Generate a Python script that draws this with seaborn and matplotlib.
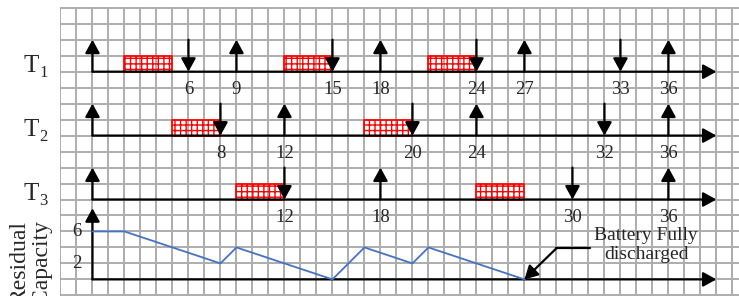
import numpy as np
import matplotlib
matplotlib.use("Agg")
import matplotlib.pyplot as plt
import seaborn as sns
from matplotlib.patches import Rectangle

# task rows: release (up arrow) times, deadline (down arrow) times, execution windows
t1_release = [0, 9, 18, 27, 36]
t1_deadline = [6, 15, 24, 33]
t1_exec = [(2, 5), (12, 15), (21, 24)]

t2_release = [0, 12, 24, 36]
t2_deadline = [8, 20, 32]
t2_exec = [(5, 8), (17, 20)]

t3_release = [0, 18, 36]
t3_deadline = [12, 30]
t3_exec = [(9, 12), (24, 27)]

row_index = ["1", "2", "3"]
row_base = [13, 9, 5]

# battery residual capacity
battery_t = [0, 2, 8, 9, 15, 17, 20, 21, 27]
battery_cap = [6, 6, 2, 4, 0, 4, 2, 4, 0]
cap_ticks = [6, 2]

sns.set_style("white")
plt.rcParams["font.family"] = ["Liberation Serif", "DejaVu Serif"]
plt.rcParams["hatch.linewidth"] = 1.0

W, H = 739, 296
fig = plt.figure(figsize=(W / 100, H / 100), dpi=100)
ax = fig.add_axes([60 / W, 0, (W - 60) / W, (H - 7.3) / H])
ax.set_xlim(-2.03, 40.41)
ax.set_ylim(-1.04, 17.03)
ax.set_xticks(np.arange(-2, 41))
ax.set_yticks(np.arange(-1, 18))
ax.grid(True, color="#adadad", lw=1.4)
ax.set_axisbelow(True)
ax.tick_params(length=0, labelbottom=False, labelleft=False)
for s in ax.spines.values():
    s.set_visible(False)

ax2 = ax.twinx()
ax2.set_ylim(-2.08, 34.06)
ax2.set_yticks([])
for s in ax2.spines.values():
    s.set_visible(False)


def arrow(a, x0, y0, x1, y1):
    a.annotate("", xy=(x1, y1), xytext=(x0, y0),
               arrowprops=dict(arrowstyle="-|>,head_length=0.4,head_width=0.22",
                               color="black", lw=1.6, shrinkA=0, shrinkB=0,
                               mutation_scale=20))


rows = [(t1_release, t1_deadline, t1_exec),
        (t2_release, t2_deadline, t2_exec),
        (t3_release, t3_deadline, t3_exec)]

for (rel, dl, ex), base, idx in zip(rows, row_base, row_index):
    for a, b in ex:
        ax.add_patch(Rectangle((a, base), b - a, 1, facecolor="none",
                               edgecolor="red", hatch="+++", lw=1.2, zorder=2))
    arrow(ax, 0, base, 39, base)
    for t in rel:
        arrow(ax, t, base, t, base + 2)
    for t in dl:
        arrow(ax, t, base + 2, t, base)
    for t in sorted(rel + dl):
        if t > 0:
            ax.text(t, base - 1.1, str(t), ha="center", va="center", fontsize=13.5)
    ax.text(-4.3, base, "T", ha="left", va="baseline", fontsize=18)
    ax.text(-3.3, base - 0.36, idx, ha="left", va="baseline", fontsize=12)

# battery panel
arrow(ax, 0, 0, 39, 0)
arrow(ax, 0, 0, 0, 4.45)
sns.lineplot(x=battery_t, y=battery_cap, ax=ax2, color="#4472c4", lw=1.3)
for c in cap_ticks:
    ax2.text(-1.0, c, str(c), ha="center", va="center", fontsize=13.5)

ax2.plot([31.1, 29.0], [3.9, 3.9], color="black", lw=1.6)
arrow(ax2, 29.0, 3.9, 27.0, 0)
ax2.text(34.6, 4.3, "Battery Fully\ndischarged", ha="center", va="center",
         fontsize=14, linespacing=1.15)

fig.text(31 / W, 1 - 262 / H, "Residual\nCapacity", rotation=90,
         ha="center", va="center", fontsize=17, linespacing=1.05)

fig.savefig("out.png", dpi=100)
